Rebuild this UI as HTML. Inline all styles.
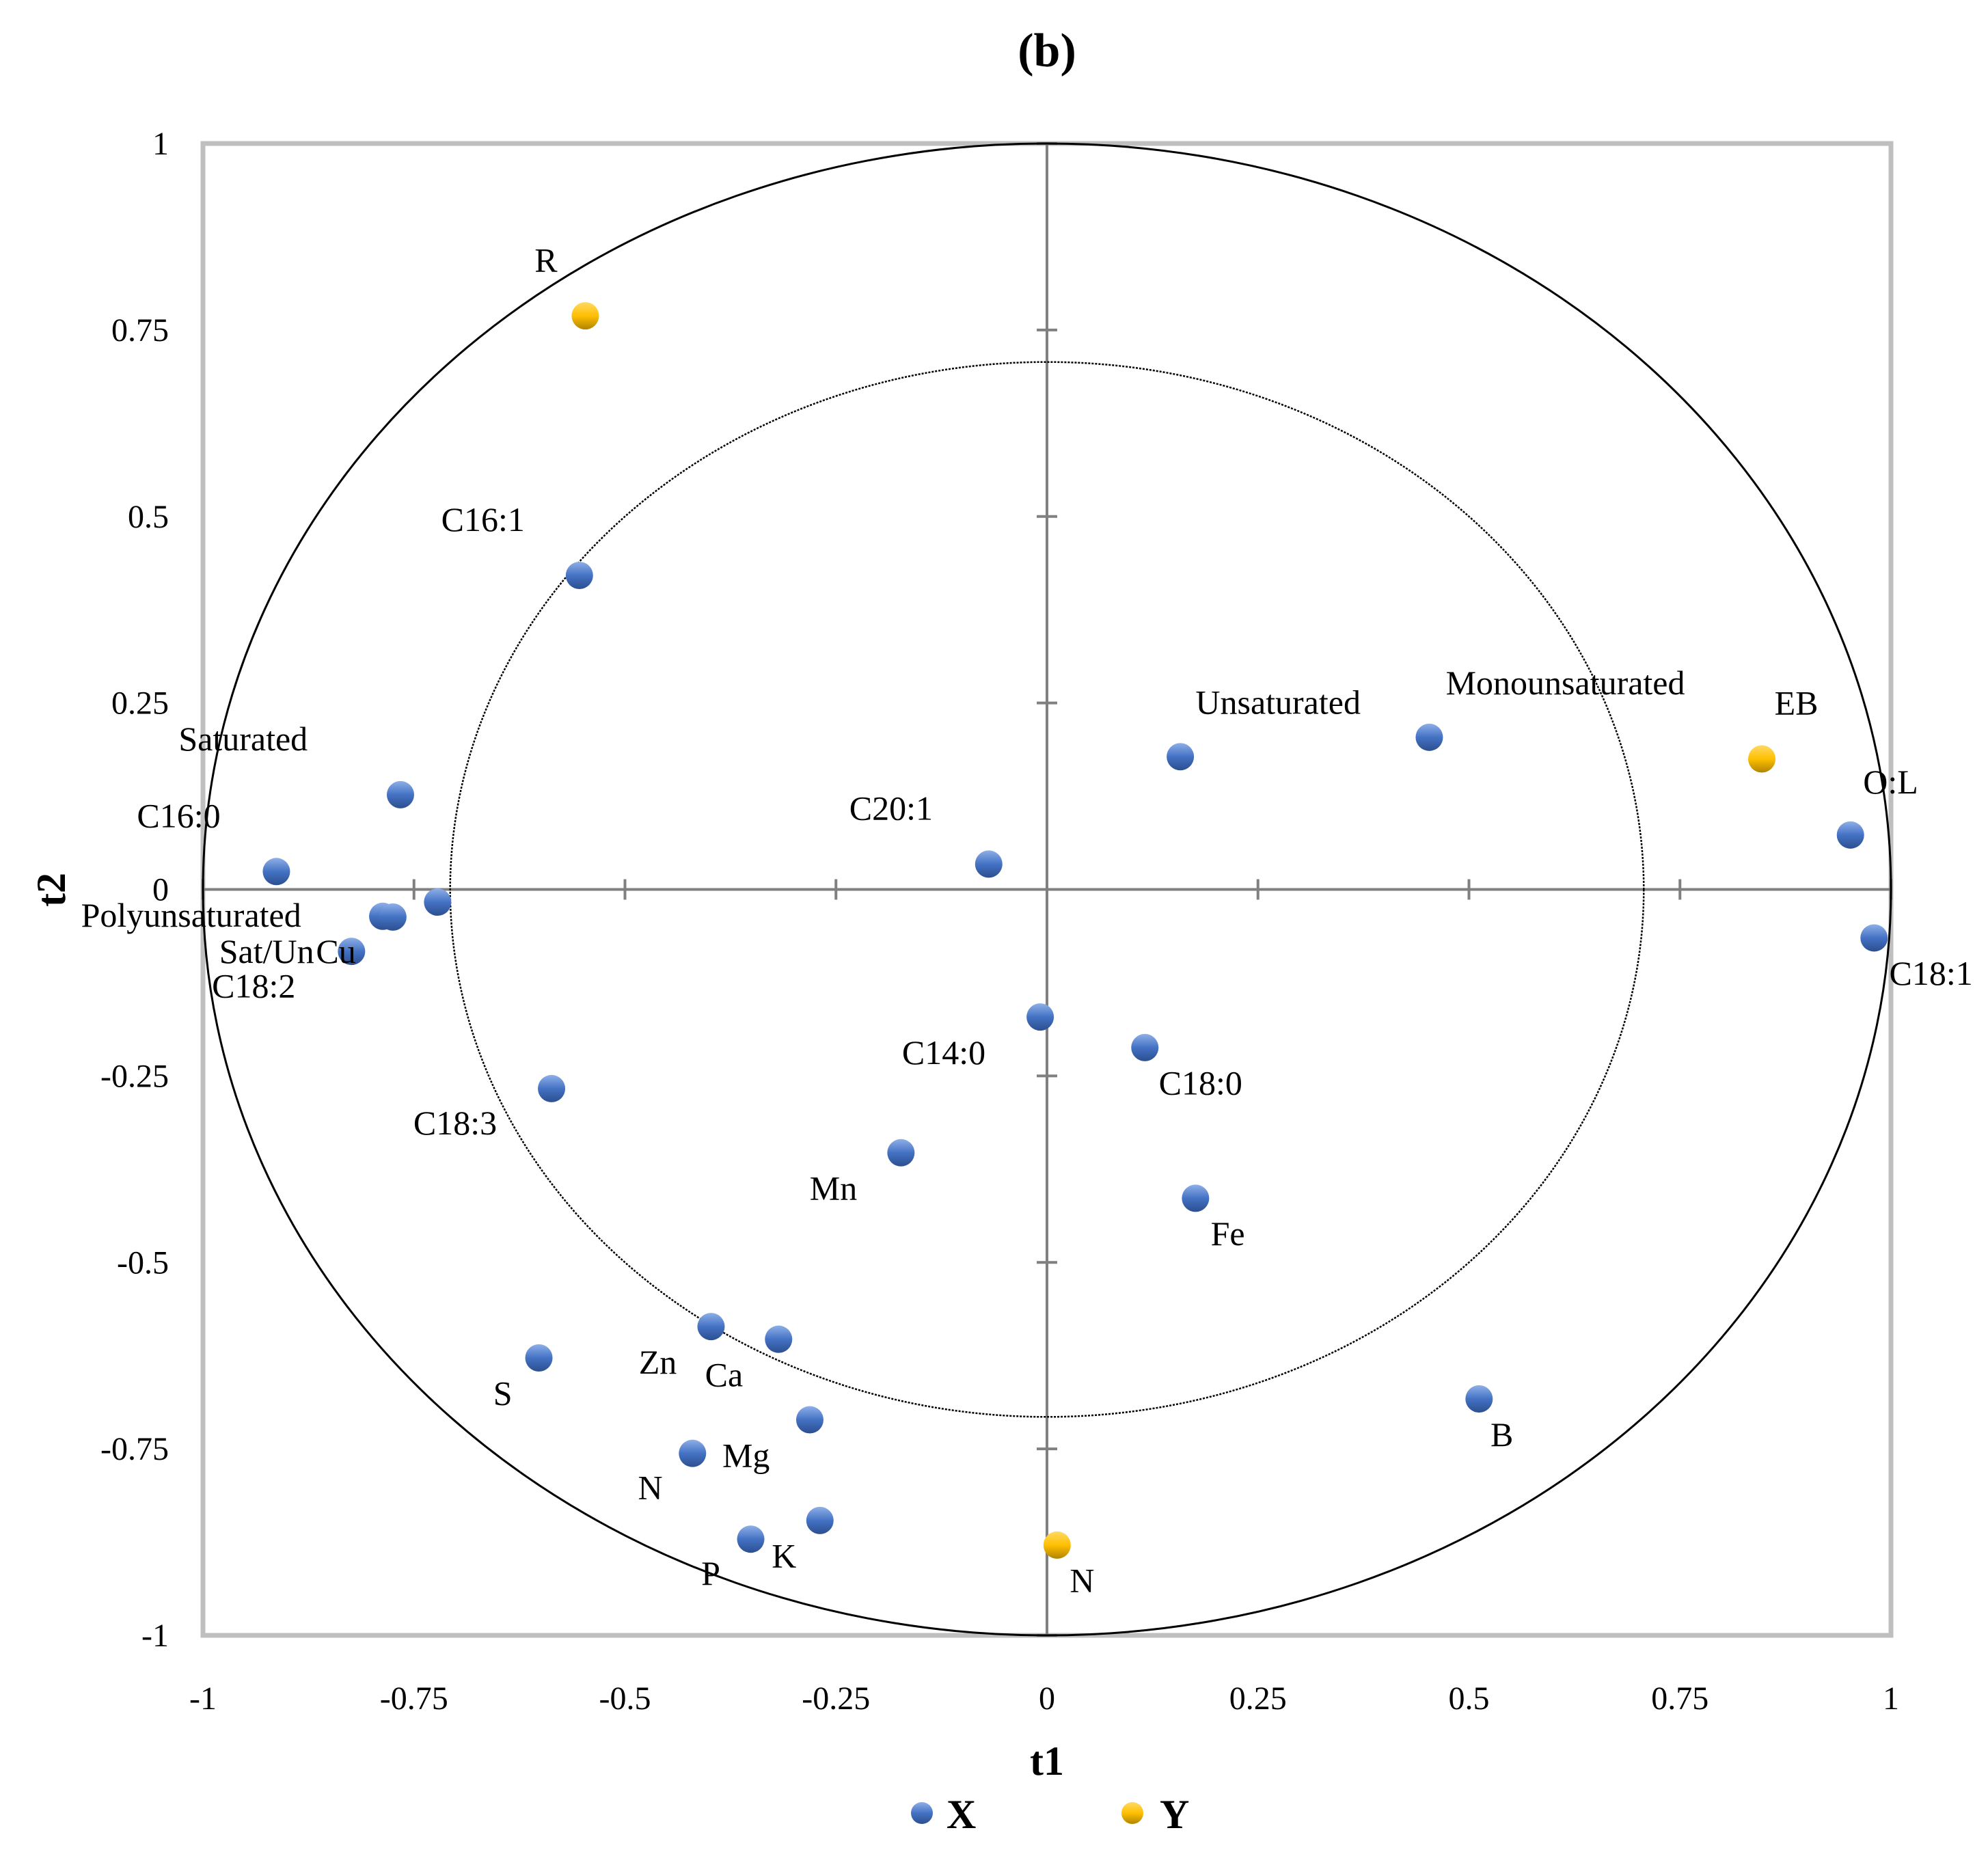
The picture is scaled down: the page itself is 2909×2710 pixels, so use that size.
<!DOCTYPE html>
<html><head><meta charset="utf-8"><style>
html,body{margin:0;padding:0;background:#fff;}
svg{display:block;font-family:"Liberation Serif",serif;}
</style></head><body>
<svg id="chart" width="2909" height="2710" viewBox="0 0 2909 2710" xmlns="http://www.w3.org/2000/svg">
<defs>
<linearGradient id="gb" x1="0" y1="0" x2="0" y2="1"><stop offset="0" stop-color="#8fb0e8"/><stop offset="0.5" stop-color="#4472c4"/><stop offset="1" stop-color="#2c4f8f"/></linearGradient>
<linearGradient id="gy" x1="0" y1="0" x2="0" y2="1"><stop offset="0" stop-color="#ffd966"/><stop offset="0.5" stop-color="#ffc000"/><stop offset="1" stop-color="#b08400"/></linearGradient>
</defs>
<text x="1532" y="97" text-anchor="middle" font-size="70" font-weight="bold">(b)</text>
<g id="plot"></g>
<text x="1532" y="2597" text-anchor="middle" font-size="60" font-weight="bold">t1</text>
<text transform="translate(95,1302) rotate(-90)" text-anchor="middle" font-size="60" font-weight="bold">t2</text>
<g>
<circle cx="1349" cy="2653" r="16" fill="url(#gb)"/>
<text x="1385" y="2675" font-size="60" font-weight="bold">X</text>
<circle cx="1657" cy="2653" r="16" fill="url(#gy)"/>
<text x="1697" y="2675" font-size="60" font-weight="bold">Y</text>
</g>
</svg>
<script>
const xNames = ["C16:1","Saturated","C16:0","Polyunsaturated","Sat/Un","C18:2","Cu","C20:1","Unsaturated","Monounsaturated","O:L","C18:1","C14:0","C18:0","C18:3","Mn","Fe","Zn","Ca","S","Mg","N","K","P","B"];
const xT1 = [-0.554,-0.766,-0.913,-0.787,-0.775,-0.722,-0.824,-0.069,0.158,0.453,0.952,0.980,-0.008,0.116,-0.587,-0.173,0.176,-0.398,-0.318,-0.602,-0.281,-0.420,-0.269,-0.351,0.512];
const xT2 = [0.421,0.127,0.024,-0.036,-0.037,-0.017,-0.083,0.034,0.178,0.204,0.073,-0.065,-0.171,-0.212,-0.267,-0.353,-0.414,-0.586,-0.603,-0.628,-0.711,-0.756,-0.846,-0.871,-0.683];
const yNames = ["R","EB","N"];
const yT1 = [-0.547,0.847,0.012];
const yT2 = [0.769,0.175,-0.879];
const tickVals = [-1,-0.75,-0.5,-0.25,0,0.25,0.5,0.75,1];
const tickLabels = ["-1","-0.75","-0.5","-0.25","0","0.25","0.5","0.75","1"];
// label offsets (display px, styling)
const xOff = [[-109,-36],[-175,-36],[-110,-36],[-238,7],[-137,35],[-178,74],[-28,8],[-110,-36],[12,-35],[13,-35],[10,-34],[12,36],[-109,36],[11,36],[-109,35],[-72,36],[12,36],[-57,36],[-58,36],[-36,36],[-69,36],[-43,35],[-38,36],[-39,35],[9,36]];
const yOff = [[-40,-36],[10,-36],[10,36]];

const L=297,R=2767,T=210,B=2393,S=1.855;
const sx=v=>L+(v+1)/2*(R-L);
const sy=v=>B-(v+1)/2*(B-T);
const NS="http://www.w3.org/2000/svg";
const g=document.getElementById('plot');
function mk(tag,attrs,parent){const e=document.createElementNS(NS,tag);for(const k in attrs)e.setAttribute(k,attrs[k]);(parent||g).appendChild(e);return e;}

let e=mk('rect',{x:L,y:T,width:R-L,height:B-T,fill:'none',stroke:'#bfbfbf','stroke-width':7});


e=mk('line',{x1:L,x2:R,y1:sy(0),y2:sy(0),stroke:'#808080','stroke-width':4});


e=mk('line',{x1:sx(0),x2:sx(0),y1:T,y2:B,stroke:'#808080','stroke-width':4});


tickVals.forEach((v,i)=>{
  let t=mk('line',{x1:sx(v),x2:sx(v),y1:sy(0)-15,y2:sy(0)+15,stroke:'#808080','stroke-width':4});
  
  
  t=mk('line',{x1:sx(0)-15,x2:sx(0)+15,y1:sy(v),y2:sy(v),stroke:'#808080','stroke-width':4});
  
  
  t=mk('text',{x:sx(v),y:B+108,'text-anchor':'middle','font-size':48});
  t.textContent=tickLabels[i];
  
  
  t=mk('text',{x:L-50,y:sy(v)+16,'text-anchor':'end','font-size':48});
  t.textContent=tickLabels[i];
  
  
});
e=mk('ellipse',{cx:sx(0),cy:sy(0),rx:(R-L)/2,ry:(B-T)/2,fill:'none',stroke:'#000','stroke-width':3});


e=mk('ellipse',{cx:sx(0),cy:sy(0),rx:(R-L)/2*Math.SQRT1_2,ry:(B-T)/2*Math.SQRT1_2,fill:'none',stroke:'#000','stroke-width':2.5,'stroke-dasharray':'3 2'});



function series(names,a,b,off,fill,nm){
  names.forEach((n,i)=>{
    const cx=sx(a[i]),cy=sy(b[i]);
    let c=mk('circle',{cx:cx,cy:cy,r:20,fill:fill});
    
    
    let t=mk('text',{x:cx+off[i][0]*S,y:cy+off[i][1]*S+2,'font-size':50});
    t.textContent=n;
    
    
  });
}
series(xNames,xT1,xT2,xOff,'url(#gb)','x-variable');
series(yNames,yT1,yT2,yOff,'url(#gy)','y-variable');
</script>
</body></html>
